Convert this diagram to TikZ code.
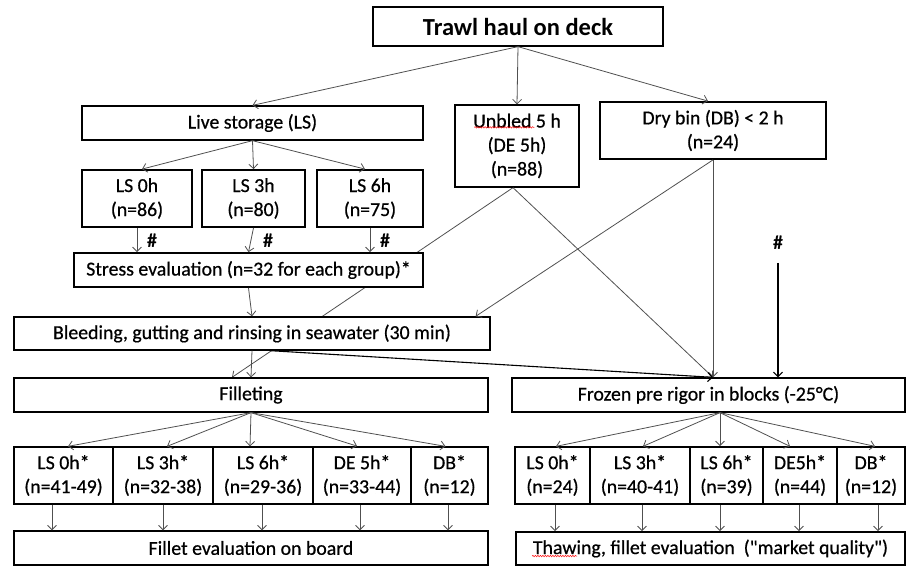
\documentclass[tikz,border=0pt]{standalone}
\usepackage{fontspec}
\setmainfont{Carlito}
\newfontfamily\boxfont{Carlito}[FakeBold=0.6]
\newfontfamily\titlefont{Carlito Bold}
\usetikzlibrary{arrows.meta,backgrounds,calc,decorations.pathmorphing}
\definecolor{connc}{RGB}{80,80,80}
\begin{document}
\begin{tikzpicture}[x=1pt,y=-1pt,
  box/.style={draw=black,line width=1.3pt,fill=white,inner sep=0pt,align=center,
    font=\boxfont\fontsize{19.8}{24}\selectfont},
  thickbox/.style={line width=1.8pt},
  conn/.style={draw=connc,line width=0.8pt,-{Straight Barb[length=4.5pt,width=9pt]}},
  darkconn/.style={conn,draw=black,line width=1.1pt},
  hash/.style={font=\fontsize{20}{24}\selectfont\bfseries,inner sep=0pt},
  squig/.style={draw=red,line width=0.5pt,decorate,decoration={snake,amplitude=0.7pt,segment length=2.5pt}}
]
\useasboundingbox (0,0) rectangle (906,567);

% top level
\node[box,font=\titlefont\fontsize{24.5}{28}\selectfont,minimum width=290,minimum height=39] (trawl) at (518,26.5) {Trawl haul on deck};
\node[box,minimum width=341,minimum height=34] (ls) at (252.5,123) {Live storage (LS)};
\node[box,minimum width=124,minimum height=82] (unbled) at (517,146) {Unbled 5 h\\(DE 5h)\\(n=88)};
\node[box,thickbox,minimum width=226,minimum height=57] (drybin) at (713,130.5) {Dry bin (DB) < 2 h\\(n=24)};

\node[box,thickbox,minimum width=110,minimum height=57] (ls0) at (137,198.5) {LS 0h\\(n=86)};
\node[box,thickbox,minimum width=103,minimum height=57] (ls3) at (253.5,198.5) {LS 3h\\(n=80)};
\node[box,thickbox,minimum width=106,minimum height=57] (ls6) at (370,198.5) {LS 6h\\(n=75)};

\node[hash] (h1) at (152,241) {\#};
\node[hash] (h2) at (268,241) {\#};
\node[hash] (h3) at (385,241) {\#};
\node[hash] (h4) at (778,243) {\#};

\node[box,thickbox,minimum width=349,minimum height=34] (stress) at (248.5,270) {Stress evaluation (n=32 for each group)*};
\node[box,minimum width=476,minimum height=33] (bleed) at (252,333.5) {Bleeding, gutting and rinsing in seawater (30 min)};
\node[box,minimum width=474,minimum height=34] (fillet) at (251,395) {Filleting};
\node[box,minimum width=393,minimum height=34] (frozen) at (708.5,395) {Frozen pre rigor in blocks (-25°C)};

% bottom left boxes
\node[box,minimum width=99,minimum height=57] (lb1) at (63.5,475.5) {LS 0h*\\(n=41-49)};
\node[box,minimum width=100,minimum height=57] (lb2) at (163,475.5) {LS 3h*\\(n=32-38)};
\node[box,minimum width=100,minimum height=57] (lb3) at (263,475.5) {LS 6h*\\(n=29-36)};
\node[box,thickbox,minimum width=98,minimum height=57] (lb4) at (362,475.5) {DE 5h*\\(n=33-44)};
\node[box,minimum width=77,minimum height=57] (lb5) at (449.5,475.5) {DB*\\(n=12)};

% bottom right boxes
\node[box,minimum width=75,minimum height=57] (rb1) at (552.5,475.5) {LS 0h*\\(n=24)};
\node[box,minimum width=100,minimum height=57] (rb2) at (640,475.5) {LS 3h*\\(n=40-41)};
\node[box,thickbox,minimum width=73,minimum height=57] (rb3) at (726.5,475.5) {LS 6h*\\(n=39)};
\node[box,minimum width=74,minimum height=57] (rb4) at (800,475.5) {DE5h*\\(n=44)};
\node[box,minimum width=68,minimum height=57] (rb5) at (871,475.5) {DB*\\(n=12)};

\node[box,minimum width=474,minimum height=34] (feval) at (251,548) {Fillet evaluation on board};
\node[box,thickbox,minimum width=389,minimum height=33] (thaw) at (710.5,548.5) {Thawing, fillet evaluation\ \ ("market quality")};

% spell-check marks
\draw[squig] ([xshift=20pt,yshift=-23pt]unbled.north west) -- ([xshift=80pt,yshift=-23pt]unbled.north west);
\draw[squig] ([xshift=17pt,yshift=-25pt]thaw.north west) -- ([xshift=62pt,yshift=-25pt]thaw.north west);

% line passing behind boxes
\begin{scope}[on background layer]
\draw[conn] ([xshift=-4pt]unbled.south) -- ([xshift=-19pt]fillet.north);
\end{scope}

% connectors
\draw[conn] (trawl.south) -- (ls.north);
\draw[conn] (trawl.south) -- (unbled.north);
\draw[conn] (trawl.south) -- ([xshift=-5pt]drybin.north);

\draw[conn] (ls.south) -- ([xshift=5pt]ls0.north);
\draw[conn] (ls.south) -- (ls3.north);
\draw[conn] (ls.south) -- ([xshift=-5pt]ls6.north);

\draw[conn] (ls0.south) -- (ls0.south |- stress.north);
\draw[conn] (ls3.south) -- ($(ls3.south |- stress.north)+(-5,0)$);
\draw[conn] (ls6.south) -- (ls6.south |- stress.north);

\draw[conn] (stress.south) -- (bleed.north);
\draw[conn] (bleed.south) -- (fillet.north);
\draw[conn] (drybin.south) -- ([xshift=-15pt]bleed.north east);

\coordinate (fzin) at (drybin.south |- frozen.north);
\draw[conn] (drybin.south) -- (fzin);
\draw[conn] ([xshift=-4pt]unbled.south) -- (fzin);
\draw[darkconn] ([xshift=18pt]bleed.south) -- (fzin);

\coordinate (h4s) at ($(h4)+(0,20)$);
\draw[darkconn] (h4s) -- (h4s |- frozen.north);

% filleting fan
\draw[conn] (fillet.south) -- ([xshift=4.5pt]lb1.north);
\draw[conn] (fillet.south) -- ([xshift=4pt]lb2.north);
\draw[conn] (fillet.south) -- ([xshift=-13pt]lb3.north);
\draw[conn] (fillet.south) -- ([xshift=-5pt]lb4.north);
\draw[conn] (fillet.south) -- ([xshift=-4pt]lb5.north);

% frozen fan
\coordinate (fzout) at ([xshift=11.5pt]frozen.south);
\draw[conn] (fzout) -- ([xshift=3.5pt]rb1.north);
\draw[conn] (fzout) -- ([xshift=3pt]rb2.north);
\draw[conn] (fzout) -- ([xshift=-6.5pt]rb3.north);
\draw[conn] (fzout) -- ([xshift=-10pt]rb4.north);
\draw[conn] (fzout) -- ([xshift=4pt]rb5.north);

% to evaluation boxes
\draw[conn] ($(lb1.south)+(-11.5,0)$) -- ($(lb1.south |- feval.north)+(-11.5,0)$);
\draw[conn] (lb2.south) -- (lb2.south |- feval.north);
\draw[conn] ($(lb3.south)+(-1,0)$) -- ($(lb3.south |- feval.north)+(-1,0)$);
\draw[conn] ($(lb4.south)+(-2,0)$) -- ($(lb4.south |- feval.north)+(-2,0)$);
\draw[conn] ($(lb5.south)+(-1.5,0)$) -- ($(lb5.south |- feval.north)+(-1.5,0)$);

\draw[conn] ($(rb1.south)+(2.5,0)$) -- ($(rb1.south |- thaw.north)+(2.5,0)$);
\draw[conn] ($(rb2.south)+(2,0)$) -- ($(rb2.south |- thaw.north)+(2,0)$);
\draw[conn] ($(rb3.south)+(-6.5,0)$) -- ($(rb3.south |- thaw.north)+(-6.5,0)$);
\draw[conn] ($(rb4.south)+(-1,0)$) -- ($(rb4.south |- thaw.north)+(-1,0)$);
\draw[conn] ($(rb5.south)+(7,0)$) -- ($(rb5.south |- thaw.north)+(7,0)$);
\end{tikzpicture}
\end{document}
